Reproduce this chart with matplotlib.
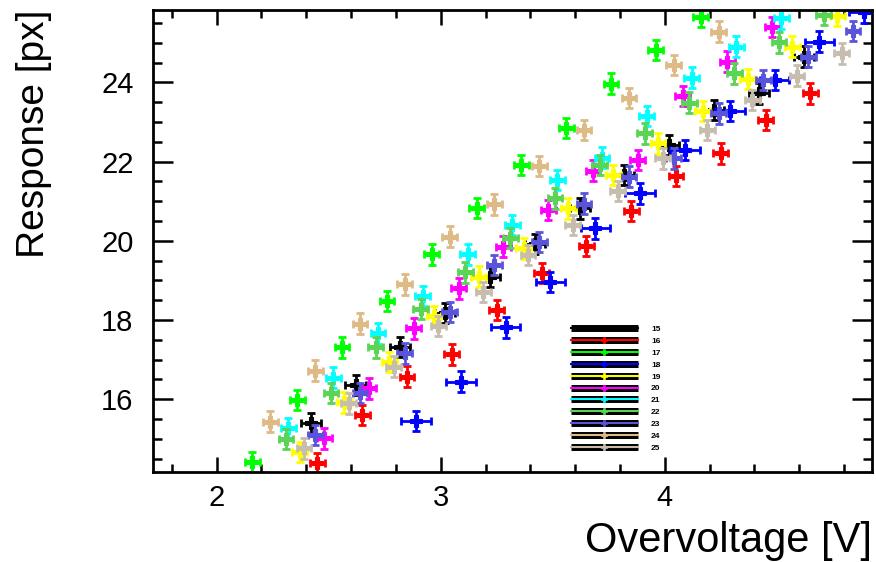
import matplotlib
matplotlib.use("Agg")
import matplotlib.pyplot as plt
from matplotlib.lines import Line2D
from matplotlib.ticker import MultipleLocator, FixedLocator
from matplotlib.legend_handler import HandlerTuple

plt.rcParams['font.family'] = ['Liberation Sans', 'DejaVu Sans']

# ---- data ----
labels = ['15', '16', '17', '18', '19', '20', '21', '22', '23', '24', '25']
colors = ['#000000', '#ff0000', '#00ff00', '#0000ff', '#ffff00', '#ff00ff',
          '#00ffff', '#59d454', '#5954d9', '#deba87', '#c7bdaf']

x15 = [2.42, 2.62, 2.82, 3.02, 3.22, 3.42, 3.62, 3.82, 4.02, 4.22, 4.42, 4.62]
y15 = [15.39, 16.36, 17.32, 18.18, 19.09, 19.92, 20.82, 21.66, 22.42, 23.30, 23.72, 24.65]
x16 = [2.45, 2.65, 2.85, 3.05, 3.25, 3.45, 3.65, 3.85, 4.05, 4.25, 4.45, 4.65]
y16 = [14.39, 15.60, 16.57, 17.13, 18.25, 19.19, 19.87, 20.75, 21.64, 22.21, 23.05, 23.72]
x17 = [2.16, 2.36, 2.56, 2.76, 2.96, 3.16, 3.36, 3.56, 3.76, 3.96, 4.16]
y17 = [14.40, 15.98, 17.31, 18.48, 19.66, 20.83, 21.91, 22.85, 23.97, 24.82, 25.66]
x18 = [2.89, 3.09, 3.29, 3.49, 3.69, 3.89, 4.09, 4.29, 4.49, 4.69, 4.89]
y18 = [15.45, 16.44, 17.81, 18.96, 20.31, 21.20, 22.29, 23.28, 24.06, 25.03, 25.77]
x19 = [2.37, 2.57, 2.77, 2.97, 3.17, 3.37, 3.57, 3.77, 3.97, 4.17, 4.37, 4.57, 4.77]
y19 = [14.67, 15.92, 16.94, 18.10, 19.09, 19.81, 20.82, 21.66, 22.46, 23.28, 24.08, 24.90, 25.68]
x20 = [2.48, 2.68, 2.88, 3.08, 3.28, 3.48, 3.68, 3.88, 4.08, 4.28, 4.48]
y20 = [15.01, 16.27, 17.79, 18.80, 19.85, 20.78, 21.77, 22.04, 23.66, 24.52, 25.40]
x21 = [2.32, 2.52, 2.72, 2.92, 3.12, 3.32, 3.52, 3.72, 3.92, 4.12, 4.32, 4.52]
y21 = [15.26, 16.54, 17.66, 18.60, 19.66, 20.40, 21.53, 22.10, 23.15, 24.12, 24.90, 25.62]
x22 = [2.31, 2.51, 2.71, 2.91, 3.11, 3.31, 3.51, 3.71, 3.91, 4.11, 4.31, 4.51, 4.71]
y22 = [14.99, 16.15, 17.31, 18.28, 19.20, 20.07, 21.07, 21.91, 22.71, 23.49, 24.23, 25.01, 25.70]
x23 = [2.44, 2.64, 2.84, 3.04, 3.24, 3.44, 3.64, 3.84, 4.04, 4.24, 4.44, 4.64, 4.84]
y23 = [15.09, 16.16, 17.16, 18.20, 19.39, 19.97, 20.94, 21.62, 22.08, 23.22, 24.06, 24.65, 25.30]
x24 = [2.24, 2.44, 2.64, 2.84, 3.04, 3.24, 3.44, 3.64, 3.84, 4.04, 4.24]
y24 = [15.43, 16.72, 17.91, 18.90, 20.10, 20.92, 21.89, 22.80, 23.60, 24.44, 25.28]
x25 = [2.39, 2.59, 2.79, 2.99, 3.19, 3.39, 3.59, 3.79, 3.99, 4.19, 4.39, 4.59, 4.79]
y25 = [14.76, 15.89, 16.82, 17.85, 18.71, 19.64, 20.40, 21.26, 22.08, 22.80, 23.55, 24.17, 24.73]

xs = [x15, x16, x17, x18, x19, x20, x21, x22, x23, x24, x25]
ys = [y15, y16, y17, y18, y19, y20, y21, y22, y23, y24, y25]
x_errors = [0.045, 0.033, 0.033, 0.066, 0.033, 0.033, 0.033, 0.033, 0.033, 0.033, 0.033]
y_error = 0.26

x_major = [2, 3, 4]
x_ticklabels = ['2', '3', '4']
y_major = [16, 18, 20, 22, 24]
y_ticklabels = ['16', '18', '20', '22', '24']

# ---- figure ----
W, H = 876, 562
fig = plt.figure(figsize=(W / 100, H / 100), dpi=100)
ax = fig.add_axes([153 / W, 1 - 472 / H, (872 - 153) / W, (472 - 9.5) / H])

for x, y, c, xe in zip(xs, ys, colors, x_errors):
    ax.errorbar(x, y, xerr=xe, yerr=y_error, fmt='none', ecolor=c,
                elinewidth=2.0, capsize=2.8, capthick=2.0, clip_on=True)
    ax.plot(x, y, linestyle='none', marker='P', ms=9, mfc=c, mec=c, mew=0.8)

ax.set_xlim(1.716, 4.925)
ax.set_ylim(14.16, 25.84)

ax.xaxis.set_major_locator(FixedLocator(x_major))
ax.set_xticklabels(x_ticklabels)
ax.xaxis.set_minor_locator(MultipleLocator(0.2))
ax.yaxis.set_major_locator(FixedLocator(y_major))
ax.set_yticklabels(y_ticklabels)
ax.yaxis.set_minor_locator(MultipleLocator(0.5))

ax.tick_params(axis='both', which='both', direction='in', top=True, right=True,
               width=1.8, color='black')
ax.tick_params(axis='x', which='major', length=10.5, pad=9, labelsize=21)
ax.tick_params(axis='x', which='minor', length=5.5)
ax.tick_params(axis='y', which='major', length=14.5, pad=14, labelsize=21)
ax.tick_params(axis='y', which='minor', length=6.5)
for s in ax.spines.values():
    s.set_linewidth(2.0)

ax.set_xlabel('Overvoltage [V]', fontsize=30, loc='right')
ax.xaxis.set_label_coords(1.0, -0.105)
ax.set_ylabel('Response [px]', fontsize=28, loc='top')
ax.yaxis.set_label_coords(-0.141, 1.0)

# legend
handles = []
for c in colors:
    bar = Line2D([], [], color='black', lw=5, solid_capstyle='butt')
    ln = Line2D([], [], color=c, lw=1.5, marker='P', ms=5, mfc=c, mec=c, mew=0.5)
    handles.append((bar, ln))
leg = ax.legend(handles, labels, handler_map={tuple: HandlerTuple(ndivide=1)},
                loc='upper left', bbox_to_anchor=(571 / W, 1 - 325.5 / H),
                bbox_transform=fig.transFigure, frameon=False,
                prop={'size': 6, 'weight': 'bold'}, handlelength=8.0,
                handletextpad=1.6, labelspacing=0.48, borderpad=0,
                borderaxespad=0)

fig.savefig('out.png', dpi=100, facecolor='white')
